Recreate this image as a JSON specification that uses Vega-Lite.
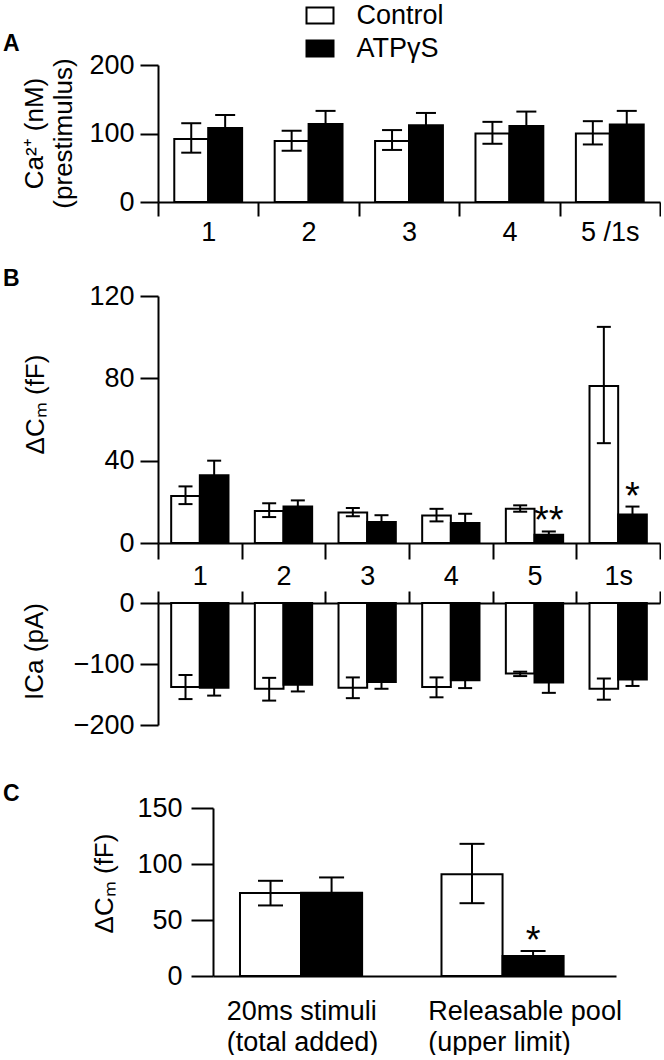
{
  "$schema": "https://vega.github.io/schema/vega-lite/v6.json",
  "padding": {"left": 3, "top": 2, "right": 0, "bottom": 0},
  "datasets": {
    "A": [
      {"stim": "1", "group": "Control", "mean": 92, "lo": 72, "hi": 115},
      {"stim": "1", "group": "ATPγS", "mean": 108, "lo": 89, "hi": 127},
      {"stim": "2", "group": "Control", "mean": 89, "lo": 75, "hi": 104},
      {"stim": "2", "group": "ATPγS", "mean": 114, "lo": 95, "hi": 133},
      {"stim": "3", "group": "Control", "mean": 89, "lo": 76, "hi": 105},
      {"stim": "3", "group": "ATPγS", "mean": 112, "lo": 94, "hi": 130},
      {"stim": "4", "group": "Control", "mean": 100, "lo": 85, "hi": 117},
      {"stim": "4", "group": "ATPγS", "mean": 111, "lo": 90, "hi": 132},
      {"stim": "5 /1s", "group": "Control", "mean": 100, "lo": 84, "hi": 118},
      {"stim": "5 /1s", "group": "ATPγS", "mean": 113, "lo": 93, "hi": 133}
    ],
    "Btop": [
      {"stim": "1", "group": "Control", "mean": 22.8, "lo": 18.9, "hi": 27.5},
      {"stim": "1", "group": "ATPγS", "mean": 32.9, "lo": 25.8, "hi": 40},
      {"stim": "2", "group": "Control", "mean": 15.6, "lo": 12.6, "hi": 19.3},
      {"stim": "2", "group": "ATPγS", "mean": 17.7, "lo": 14.7, "hi": 20.7},
      {"stim": "3", "group": "Control", "mean": 14.8, "lo": 13.0, "hi": 17.0},
      {"stim": "3", "group": "ATPγS", "mean": 10.2, "lo": 6.9, "hi": 13.5},
      {"stim": "4", "group": "Control", "mean": 13.4, "lo": 10.5, "hi": 16.6},
      {"stim": "4", "group": "ATPγS", "mean": 9.7, "lo": 5.2, "hi": 14.2},
      {"stim": "5", "group": "Control", "mean": 16.6, "lo": 15.2, "hi": 18.3},
      {"stim": "5", "group": "ATPγS", "mean": 4.0, "lo": 2.4, "hi": 5.6, "sig": "**"},
      {"stim": "1s", "group": "Control", "mean": 76.3, "lo": 48.5, "hi": 105},
      {"stim": "1s", "group": "ATPγS", "mean": 13.9, "lo": 10.1, "hi": 17.7, "sig": "*"}
    ],
    "Bbot": [
      {"stim": "1", "group": "Control", "mean": -137.8, "lo": -157.5, "hi": -118},
      {"stim": "1", "group": "ATPγS", "mean": -139, "lo": -151.8, "hi": -126.2},
      {"stim": "2", "group": "Control", "mean": -140.6, "lo": -160, "hi": -122.7},
      {"stim": "2", "group": "ATPγS", "mean": -133.9, "lo": -145, "hi": -122.8},
      {"stim": "3", "group": "Control", "mean": -139, "lo": -156, "hi": -122},
      {"stim": "3", "group": "ATPγS", "mean": -129.4, "lo": -140.6, "hi": -118.2},
      {"stim": "4", "group": "Control", "mean": -137.8, "lo": -154.6, "hi": -122},
      {"stim": "4", "group": "ATPγS", "mean": -126.6, "lo": -139.5, "hi": -113.7},
      {"stim": "5", "group": "Control", "mean": -115.4, "lo": -119.8, "hi": -112.6},
      {"stim": "5", "group": "ATPγS", "mean": -130.5, "lo": -147.3, "hi": -113.7},
      {"stim": "1s", "group": "Control", "mean": -140.6, "lo": -158.5, "hi": -123.8},
      {"stim": "1s", "group": "ATPγS", "mean": -125.5, "lo": -136, "hi": -115}
    ],
    "C": [
      {"cat": "20ms stimuli|(total added)", "group": "Control", "mean": 74, "lo": 63, "hi": 85},
      {"cat": "20ms stimuli|(total added)", "group": "ATPγS", "mean": 74.4, "lo": 61, "hi": 88},
      {"cat": "Releasable pool|(upper limit)", "group": "Control", "mean": 90.8, "lo": 65, "hi": 118},
      {"cat": "Releasable pool|(upper limit)", "group": "ATPγS", "mean": 17.9, "lo": 13.5, "hi": 22.3, "sig": "*"}
    ]
  },
  "columns": 1,
  "align": "none",
  "spacing": 45,
  "resolve": {"scale": {"x": "independent", "y": "independent", "xOffset": "independent", "fill": "shared"}, "legend": {"fill": "shared"}},
  "concat": [
    {
      "spacing": 23,
      "resolve": {"scale": {"x": "independent", "y": "independent", "xOffset": "independent", "fill": "shared"}, "legend": {"fill": "shared"}},
      "vconcat": [
        {
          "width": 502,
          "height": 137,
          "title": {"text": "A", "anchor": "start", "frame": "group", "dx": -155, "offset": -5},
          "data": {"name": "A"},
          "encoding": {
            "x": {"field": "stim", "type": "nominal", "scale": {"domain": ["1", "2", "3", "4", "5 /1s"], "paddingInner": 0, "paddingOuter": 0}, "axis": {"title": null, "tickBand": "extent", "tickSize": 14, "labelPadding": 3, "labelAngle": 0}},
            "xOffset": {"field": "group", "type": "nominal", "scale": {"domain": ["Control", "ATPγS"], "paddingInner": 0, "paddingOuter": 0.48}}
          },
          "layer": [
            {
              "mark": {"type": "bar", "stroke": "black", "strokeWidth": 2},
              "encoding": {
                "y": {"field": "mean", "type": "quantitative", "title": ["Ca²⁺ (nM)", "(prestimulus)"], "scale": {"domain": [0, 200], "nice": false}, "axis": {"values": [0, 100, 200], "titleX": -116, "titleY": 68, "titleBaseline": "alphabetic", "titleLineHeight": 29}},
                "fill": {"field": "group", "type": "nominal", "scale": {"domain": ["Control", "ATPγS"], "range": ["white", "black"]}, "legend": {"orient": "none", "legendX": 148.5, "legendY": -63, "title": null}}
              }
            },
            {
              "mark": {"type": "rule", "strokeWidth": 2, "color": "black"},
              "encoding": {"y": {"field": "lo", "type": "quantitative", "title": ["Ca²⁺ (nM)", "(prestimulus)"]}, "y2": {"field": "hi"}}
            },
            {
              "mark": {"type": "tick", "orient": "horizontal", "size": 20, "thickness": 2, "color": "black", "opacity": 1},
              "encoding": {"y": {"field": "hi", "type": "quantitative", "title": ["Ca²⁺ (nM)", "(prestimulus)"]}}
            },
            {
              "mark": {"type": "tick", "orient": "horizontal", "size": 20, "thickness": 2, "color": "black", "opacity": 1},
              "encoding": {"y": {"field": "lo", "type": "quantitative", "title": ["Ca²⁺ (nM)", "(prestimulus)"]}}
            }
          ]
        },
        {
          "title": {"text": "B", "anchor": "start", "frame": "group", "dx": -155, "offset": -9},
          "spacing": 0,
          "resolve": {"scale": {"x": "independent", "y": "independent", "xOffset": "independent", "fill": "shared"}, "legend": {"fill": "shared"}},
          "vconcat": [
            {
              "width": 502,
              "height": 247,
              "data": {"name": "Btop"},
              "encoding": {
                "x": {"field": "stim", "type": "nominal", "scale": {"domain": ["1", "2", "3", "4", "5", "1s"], "paddingInner": 0, "paddingOuter": 0}, "axis": {"title": null, "tickBand": "extent", "tickSize": 16, "labelPadding": 4, "labelAngle": 0}},
                "xOffset": {"field": "group", "type": "nominal", "scale": {"domain": ["Control", "ATPγS"], "paddingInner": 0, "paddingOuter": 0.46}}
              },
              "layer": [
                {
                  "mark": {"type": "bar", "stroke": "black", "strokeWidth": 2},
                  "encoding": {
                    "y": {"field": "mean", "type": "quantitative", "title": "ΔCₘ  (fF)", "scale": {"domain": [0, 120], "nice": false}, "axis": {"values": [0, 40, 80, 120], "titleX": -115, "titleY": 108, "titleBaseline": "alphabetic"}},
                    "fill": {"field": "group", "type": "nominal", "scale": {"domain": ["Control", "ATPγS"], "range": ["white", "black"]}, "legend": {"orient": "none", "legendX": 148.5, "legendY": -63, "title": null}}
                  }
                },
                {
                  "mark": {"type": "rule", "strokeWidth": 2, "color": "black"},
                  "encoding": {"y": {"field": "lo", "type": "quantitative", "title": "ΔCₘ  (fF)"}, "y2": {"field": "hi"}}
                },
                {
                  "mark": {"type": "tick", "orient": "horizontal", "size": 14, "thickness": 2, "color": "black", "opacity": 1},
                  "encoding": {"y": {"field": "hi", "type": "quantitative", "title": "ΔCₘ  (fF)"}}
                },
                {
                  "mark": {"type": "tick", "orient": "horizontal", "size": 14, "thickness": 2, "color": "black", "opacity": 1},
                  "encoding": {"y": {"field": "lo", "type": "quantitative", "title": "ΔCₘ  (fF)"}}
                },
                {
                  "transform": [{"filter": "isValid(datum.sig)"}],
                  "mark": {"type": "text", "fontSize": 38, "baseline": "alphabetic", "dy": 2, "color": "black"},
                  "encoding": {"y": {"field": "hi", "type": "quantitative", "title": "ΔCₘ  (fF)"}, "text": {"field": "sig"}}
                }
              ]
            },
            {
              "width": 502,
              "height": 122,
              "data": {"name": "Bbot"},
              "encoding": {
                "x": {"field": "stim", "type": "nominal", "scale": {"domain": ["1", "2", "3", "4", "5", "1s"], "paddingInner": 0, "paddingOuter": 0}, "axis": {"title": null, "orient": "top", "tickBand": "extent", "tickSize": 12, "labels": false}},
                "xOffset": {"field": "group", "type": "nominal", "scale": {"domain": ["Control", "ATPγS"], "paddingInner": 0, "paddingOuter": 0.46}}
              },
              "layer": [
                {
                  "mark": {"type": "bar", "stroke": "black", "strokeWidth": 2},
                  "encoding": {
                    "y": {"field": "mean", "type": "quantitative", "title": "ICa  (pA)", "scale": {"domain": [-200, 0], "nice": false}, "axis": {"values": [-200, -100, 0], "titleX": -116, "titleY": 48, "titleBaseline": "alphabetic"}},
                    "fill": {"field": "group", "type": "nominal", "scale": {"domain": ["Control", "ATPγS"], "range": ["white", "black"]}, "legend": {"orient": "none", "legendX": 148.5, "legendY": -63, "title": null}}
                  }
                },
                {
                  "mark": {"type": "rule", "strokeWidth": 2, "color": "black"},
                  "encoding": {"y": {"field": "lo", "type": "quantitative", "title": "ICa  (pA)"}, "y2": {"field": "hi"}}
                },
                {
                  "mark": {"type": "tick", "orient": "horizontal", "size": 14, "thickness": 2, "color": "black", "opacity": 1},
                  "encoding": {"y": {"field": "hi", "type": "quantitative", "title": "ICa  (pA)"}}
                },
                {
                  "mark": {"type": "tick", "orient": "horizontal", "size": 14, "thickness": 2, "color": "black", "opacity": 1},
                  "encoding": {"y": {"field": "lo", "type": "quantitative", "title": "ICa  (pA)"}}
                }
              ]
            }
          ]
        }
      ]
    },
    {
      "width": 458,
      "height": 168,
      "title": {"text": "C", "anchor": "start", "frame": "group", "dx": -155, "offset": -12},
      "data": {"name": "C"},
      "encoding": {
        "x": {"field": "cat", "type": "nominal", "scale": {"domain": ["20ms stimuli|(total added)", "Releasable pool|(upper limit)"], "range": [55, 458], "paddingInner": 0, "paddingOuter": 0}, "axis": {"title": null, "ticks": false, "tickSize": 0, "labelExpr": "split(datum.value, '|')", "labelAlign": "left", "labelOffset": -87, "labelPadding": 22, "labelLineHeight": 31, "labelAngle": 0, "labelLimit": 400}},
        "xOffset": {"field": "group", "type": "nominal", "scale": {"domain": ["Control", "ATPγS"], "paddingInner": 0, "paddingOuter": 0.65, "align": 0.34}}
      },
      "layer": [
        {
          "mark": {"type": "bar", "stroke": "black", "strokeWidth": 2},
          "encoding": {
            "y": {"field": "mean", "type": "quantitative", "title": "ΔCₘ  (fF)", "scale": {"domain": [0, 150], "nice": false}, "axis": {"values": [0, 50, 100, 150], "offset": -55, "tickSize": 22, "labelPadding": 9, "titleX": -101, "titleY": 75, "titleBaseline": "alphabetic"}},
            "fill": {"field": "group", "type": "nominal", "scale": {"domain": ["Control", "ATPγS"], "range": ["white", "black"]}, "legend": {"orient": "none", "legendX": 148.5, "legendY": -63, "title": null}}
          }
        },
        {
          "mark": {"type": "rule", "strokeWidth": 2, "color": "black"},
          "encoding": {"y": {"field": "lo", "type": "quantitative", "title": "ΔCₘ  (fF)"}, "y2": {"field": "hi"}}
        },
        {
          "mark": {"type": "tick", "orient": "horizontal", "size": 25, "thickness": 2, "color": "black", "opacity": 1},
          "encoding": {"y": {"field": "hi", "type": "quantitative", "title": "ΔCₘ  (fF)"}}
        },
        {
          "mark": {"type": "tick", "orient": "horizontal", "size": 25, "thickness": 2, "color": "black", "opacity": 1},
          "encoding": {"y": {"field": "lo", "type": "quantitative", "title": "ΔCₘ  (fF)"}}
        },
        {
          "transform": [{"filter": "isValid(datum.sig)"}],
          "mark": {"type": "text", "fontSize": 38, "baseline": "alphabetic", "dy": 2, "color": "black"},
          "encoding": {"y": {"field": "hi", "type": "quantitative", "title": "ΔCₘ  (fF)"}, "text": {"field": "sig"}}
        }
      ]
    }
  ],
  "config": {
    "font": "Liberation Sans",
    "view": {"stroke": null},
    "axis": {
      "domainColor": "black", "domainWidth": 2, "tickColor": "black", "tickWidth": 2,
      "labelColor": "black", "labelFontSize": 27, "labelFont": "Liberation Sans",
      "titleColor": "black", "titleFontSize": 26, "titleFontWeight": "normal", "titleFont": "Liberation Sans",
      "grid": false, "tickSize": 18, "labelPadding": 6, "labelFlush": false, "labelOverlap": false
    },
    "title": {"font": "Liberation Sans", "fontSize": 23, "fontWeight": "bold", "color": "black"},
    "legend": {
      "symbolType": "M-1.35,-0.8H1.35V0.8H-1.35Z", "symbolSize": 400, "symbolStrokeColor": "black", "symbolStrokeWidth": 2,
      "labelFontSize": 27, "labelColor": "black", "labelFont": "Liberation Sans", "labelOffset": 23, "rowPadding": 5, "padding": 0, "symbolOpacity": 1, "labelLimit": 300
    }
  }
}
